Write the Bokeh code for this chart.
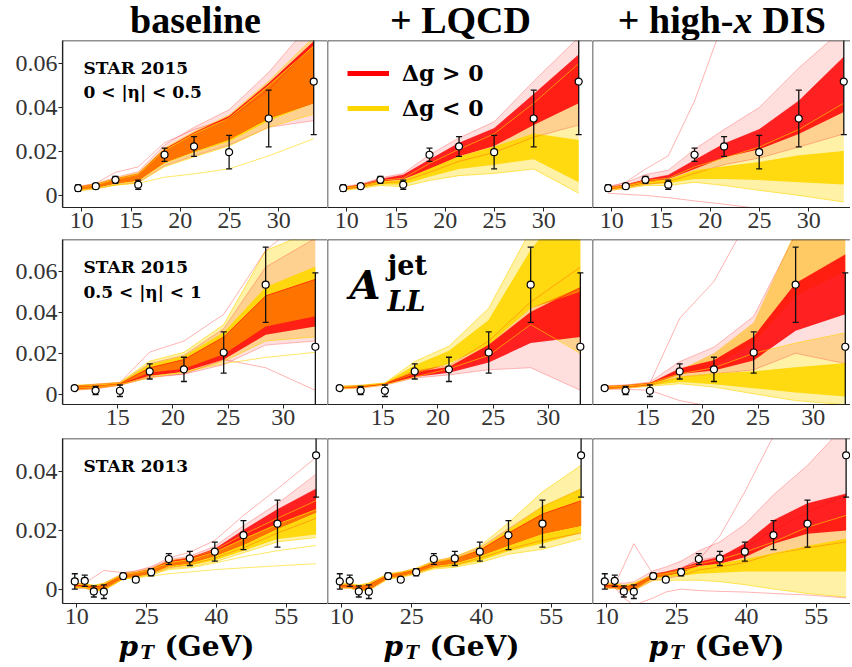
import numpy as np
from bokeh.plotting import figure
from bokeh.layouts import gridplot, column
from bokeh.models import Range1d, FixedTicker, Label, Legend, LegendItem, Span
from bokeh.embed import file_html
from bokeh.resources import INLINE

# ------------------------------------------------------------------ data
COLUMN_TITLES = ["baseline", "+ LQCD"]
X_TICKS_15A = [10, 15, 20, 25, 30]
X_TICKS_15B = [15, 20, 25, 30]
X_TICKS_13 = [10, 25, 40, 55]
Y_TICKS_15 = [0, 0.02, 0.04, 0.06]
Y_LABELS_15 = ["0", "0.02", "0.04", "0.06"]
Y_TICKS_13 = [0, 0.02, 0.04]
Y_LABELS_13 = ["0", "0.02", "0.04"]

# STAR 2015, 0 < |eta| < 0.5
PT_15A = [9.63, 11.42, 13.42, 15.73, 18.40, 21.40, 24.96, 28.98, 33.55]
ALL_15A = [0.0033, 0.0042, 0.0071, 0.0049, 0.0185, 0.0223, 0.0197, 0.0350, 0.0518]
ERR_15A = [0.0015, 0.0011, 0.0015, 0.0021, 0.0030, 0.0045, 0.0076, 0.0129, 0.0241]
# STAR 2015, 0.5 < |eta| < 1
PT_15B = [11.1, 13.0, 15.2, 17.9, 21.0, 24.6, 28.4, 32.9]
ALL_15B = [0.0031, 0.0019, 0.0018, 0.0112, 0.0122, 0.0204, 0.0534, 0.0232]
ERR_15B = [0.0010, 0.0020, 0.0028, 0.0037, 0.0059, 0.0100, 0.0183, 0.0360]
# STAR 2013
PT_13 = [9.56, 11.70, 13.65, 15.80, 19.96, 22.67, 25.97, 29.76, 34.27, 39.64, 45.80, 53.10, 61.40]
ALL_13 = [0.0026, 0.0028, -0.0008, -0.0009, 0.0044, 0.0032, 0.0057, 0.0102, 0.0104, 0.0127, 0.0183, 0.0222, 0.0454]
ERR_13 = [0.0026, 0.0019, 0.0019, 0.0023, 0.0010, 0.0008, 0.0012, 0.0018, 0.0024, 0.0032, 0.0049, 0.0080, 0.0142]

# replica envelopes (outer spread and dense core), Delta g > 0 (red) and < 0 (yellow)
BASE_15A_RED_LO = [0.0022, 0.0030, 0.0048, 0.0058, 0.0135, 0.0180, 0.0230, 0.0310, 0.0340]
BASE_15A_RED_HI = [0.0042, 0.0054, 0.0082, 0.0108, 0.0230, 0.0310, 0.0390, 0.0560, 0.0800]
BASE_15A_RED_CLO = [0.0026, 0.0035, 0.0055, 0.0068, 0.0150, 0.0200, 0.0255, 0.0350, 0.0420]
BASE_15A_RED_CHI = [0.0037, 0.0049, 0.0075, 0.0098, 0.0210, 0.0285, 0.0360, 0.0510, 0.0700]
BASE_15A_YEL_LO = [0.0020, 0.0030, 0.0046, 0.0058, 0.0130, 0.0175, 0.0225, 0.0310, 0.0370]
BASE_15A_YEL_HI = [0.0040, 0.0052, 0.0078, 0.0102, 0.0215, 0.0290, 0.0365, 0.0520, 0.0720]
BASE_15A_YEL_CLO = [0.0024, 0.0034, 0.0052, 0.0065, 0.0145, 0.0195, 0.0245, 0.0340, 0.0420]
BASE_15A_YEL_CHI = [0.0036, 0.0048, 0.0073, 0.0096, 0.0205, 0.0280, 0.0352, 0.0500, 0.0680]
STRAY_BASE_15A_RED = [0.0036, 0.0055, 0.0105, 0.0130, 0.0240, 0.0300, 0.0350, 0.0480, 0.0690]
STRAY_BASE_15A_YEL = [0.0024, 0.0033, 0.0048, 0.0055, 0.0083, 0.0098, 0.0121, 0.0180, 0.0258]

LQCD_15A_RED_LO = [0.0025, 0.0036, 0.0055, 0.0065, 0.0105, 0.0155, 0.0195, 0.0265, 0.0320]
LQCD_15A_RED_HI = [0.0040, 0.0052, 0.0080, 0.0100, 0.0185, 0.0262, 0.0335, 0.0520, 0.0720]
LQCD_15A_RED_CLO = [0.0028, 0.0039, 0.0062, 0.0073, 0.0120, 0.0178, 0.0225, 0.0320, 0.0420]
LQCD_15A_RED_CHI = [0.0037, 0.0048, 0.0074, 0.0093, 0.0162, 0.0238, 0.0305, 0.0460, 0.0640]
LQCD_15A_YEL_LO = [0.0022, 0.0032, 0.0045, 0.0040, 0.0068, 0.0090, 0.0100, 0.0120, 0.0010]
LQCD_15A_YEL_HI = [0.0037, 0.0047, 0.0068, 0.0078, 0.0145, 0.0210, 0.0280, 0.0420, 0.0600]
LQCD_15A_YEL_CLO = [0.0025, 0.0035, 0.0050, 0.0050, 0.0085, 0.0120, 0.0140, 0.0165, 0.0060]
LQCD_15A_YEL_CHI = [0.0034, 0.0043, 0.0062, 0.0068, 0.0120, 0.0175, 0.0220, 0.0280, 0.0250]

DIS_15A_RED_LO = [0.0022, 0.0032, 0.0050, 0.0062, 0.0100, 0.0140, 0.0170, 0.0220, 0.0280]
DIS_15A_RED_HI = [0.0042, 0.0058, 0.0095, 0.0115, 0.0210, 0.0300, 0.0400, 0.0580, 0.0760]
DIS_15A_RED_CLO = [0.0027, 0.0038, 0.0058, 0.0075, 0.0120, 0.0172, 0.0210, 0.0280, 0.0380]
DIS_15A_RED_CHI = [0.0036, 0.0048, 0.0072, 0.0092, 0.0160, 0.0235, 0.0300, 0.0430, 0.0630]
DIS_15A_YEL_LO = [0.0022, 0.0032, 0.0045, 0.0045, 0.0060, 0.0045, 0.0023, 0.0000, -0.0030]
DIS_15A_YEL_HI = [0.0037, 0.0047, 0.0068, 0.0078, 0.0130, 0.0170, 0.0220, 0.0300, 0.0420]
DIS_15A_YEL_CLO = [0.0025, 0.0035, 0.0050, 0.0055, 0.0075, 0.0075, 0.0070, 0.0060, 0.0050]
DIS_15A_YEL_CHI = [0.0034, 0.0043, 0.0062, 0.0070, 0.0112, 0.0130, 0.0150, 0.0180, 0.0200]
STRAY_DIS_15A_RED1 = [0.0035, 0.0060, 0.0120, 0.0180, 0.0430, 0.0800, 0.1000, 0.1200, 0.1400]
STRAY_DIS_15A_RED2 = [0.0010, 0.0005, 0.0000, -0.0010, -0.0025, -0.0040, -0.0060, -0.0080, -0.0100]

BASE_15B_RED_LO = [0.0020, 0.0027, 0.0044, 0.0082, 0.0098, 0.0145, 0.0240, 0.0260]
BASE_15B_RED_HI = [0.0042, 0.0047, 0.0056, 0.0150, 0.0190, 0.0320, 0.0620, 0.0760]
BASE_15B_RED_CLO = [0.0024, 0.0031, 0.0047, 0.0090, 0.0110, 0.0170, 0.0290, 0.0330]
BASE_15B_RED_CHI = [0.0038, 0.0043, 0.0053, 0.0130, 0.0170, 0.0280, 0.0480, 0.0560]
BASE_15B_YEL_LO = [0.0022, 0.0029, 0.0046, 0.0090, 0.0105, 0.0160, 0.0260, 0.0280]
BASE_15B_YEL_HI = [0.0045, 0.0050, 0.0059, 0.0162, 0.0205, 0.0340, 0.0700, 0.0800]
BASE_15B_YEL_CLO = [0.0027, 0.0034, 0.0049, 0.0105, 0.0125, 0.0195, 0.0330, 0.0380]
BASE_15B_YEL_CHI = [0.0040, 0.0045, 0.0055, 0.0145, 0.0185, 0.0300, 0.0520, 0.0620]
STRAY_BASE_15B_RED1 = [0.0040, 0.0050, 0.0058, 0.0206, 0.0260, 0.0390, 0.0700, 0.0900]
STRAY_BASE_15B_RED2 = [0.0025, 0.0030, 0.0046, 0.0085, 0.0100, 0.0170, 0.0130, 0.0020]
STRAY_BASE_15B_YEL = [0.0030, 0.0035, 0.0048, 0.0080, 0.0110, 0.0150, 0.0180, 0.0205]

LQCD_15B_RED_LO = [0.0026, 0.0030, 0.0045, 0.0080, 0.0095, 0.0120, 0.0130, 0.0020]
LQCD_15B_RED_HI = [0.0040, 0.0044, 0.0054, 0.0115, 0.0140, 0.0260, 0.0450, 0.0620]
LQCD_15B_RED_CLO = [0.0029, 0.0033, 0.0048, 0.0085, 0.0105, 0.0155, 0.0250, 0.0280]
LQCD_15B_RED_CHI = [0.0037, 0.0041, 0.0052, 0.0108, 0.0132, 0.0240, 0.0400, 0.0520]
LQCD_15B_YEL_LO = [0.0028, 0.0032, 0.0046, 0.0084, 0.0125, 0.0190, 0.0340, 0.0200]
LQCD_15B_YEL_HI = [0.0040, 0.0045, 0.0056, 0.0160, 0.0235, 0.0420, 0.0800, 0.1200]
LQCD_15B_YEL_CLO = [0.0031, 0.0036, 0.0049, 0.0100, 0.0150, 0.0240, 0.0420, 0.0500]
LQCD_15B_YEL_CHI = [0.0037, 0.0042, 0.0054, 0.0140, 0.0210, 0.0360, 0.0700, 0.1000]

DIS_15B_RED_LO = [0.0025, 0.0029, 0.0043, 0.0085, 0.0100, 0.0120, 0.0200, 0.0150]
DIS_15B_RED_HI = [0.0042, 0.0046, 0.0060, 0.0160, 0.0230, 0.0380, 0.0780, 0.0850]
DIS_15B_RED_CLO = [0.0028, 0.0032, 0.0046, 0.0100, 0.0117, 0.0165, 0.0310, 0.0390]
DIS_15B_RED_CHI = [0.0037, 0.0041, 0.0054, 0.0125, 0.0165, 0.0280, 0.0540, 0.0680]
DIS_15B_YEL_LO = [0.0026, 0.0030, 0.0040, 0.0052, 0.0036, 0.0003, -0.0030, -0.0050]
DIS_15B_YEL_HI = [0.0040, 0.0044, 0.0056, 0.0100, 0.0130, 0.0200, 0.0250, 0.0300]
DIS_15B_YEL_CLO = [0.0029, 0.0033, 0.0044, 0.0060, 0.0050, 0.0030, 0.0010, -0.0010]
DIS_15B_YEL_CHI = [0.0037, 0.0041, 0.0052, 0.0084, 0.0100, 0.0110, 0.0130, 0.0150]
DIS_15B_YEL_UP_LO = [0.0032, 0.0036, 0.0050, 0.0095, 0.0140, 0.0250, 0.0480, 0.0600]
DIS_15B_YEL_UP_HI = [0.0038, 0.0042, 0.0054, 0.0120, 0.0200, 0.0350, 0.0800, 0.1000]
STRAY_DIS_15B_RED1 = [0.0040, 0.0045, 0.0055, 0.0370, 0.0550, 0.0900, 0.1200, 0.1400]
STRAY_DIS_15B_RED2 = [0.0028, 0.0025, 0.0020, -0.0030, -0.0060, -0.0080, -0.0100, -0.0120]

BASE_13_RED_LO = [0.0002, 0.0002, -0.0007, -0.0005, 0.0034, 0.0040, 0.0050, 0.0072, 0.0082, 0.0105, 0.0140, 0.0190, 0.0240]
BASE_13_RED_HI = [0.0016, 0.0017, 0.0011, 0.0020, 0.0054, 0.0060, 0.0073, 0.0100, 0.0112, 0.0145, 0.0215, 0.0290, 0.0390]
BASE_13_RED_CLO = [0.0004, 0.0004, -0.0005, -0.0003, 0.0037, 0.0043, 0.0054, 0.0078, 0.0088, 0.0112, 0.0150, 0.0205, 0.0260]
BASE_13_RED_CHI = [0.0012, 0.0013, 0.0007, 0.0014, 0.0050, 0.0056, 0.0068, 0.0095, 0.0106, 0.0136, 0.0200, 0.0270, 0.0340]
BASE_13_YEL_LO = [0.0004, 0.0004, -0.0005, -0.0004, 0.0034, 0.0040, 0.0049, 0.0069, 0.0075, 0.0092, 0.0123, 0.0160, 0.0175]
BASE_13_YEL_HI = [0.0018, 0.0019, 0.0013, 0.0020, 0.0052, 0.0058, 0.0070, 0.0096, 0.0106, 0.0132, 0.0185, 0.0240, 0.0300]
BASE_13_YEL_CLO = [0.0006, 0.0006, -0.0003, -0.0002, 0.0036, 0.0042, 0.0052, 0.0073, 0.0080, 0.0098, 0.0130, 0.0170, 0.0185]
BASE_13_YEL_CHI = [0.0016, 0.0017, 0.0011, 0.0017, 0.0049, 0.0055, 0.0066, 0.0090, 0.0100, 0.0125, 0.0170, 0.0220, 0.0270]
STRAY_BASE_13_RED = [0.0018, 0.0020, 0.0040, 0.0063, 0.0056, 0.0062, 0.0076, 0.0105, 0.0125, 0.0165, 0.0250, 0.0340, 0.0447]
STRAY_BASE_13_YEL1 = [0.0005, 0.0006, -0.0004, -0.0002, 0.0034, 0.0038, 0.0044, 0.0052, 0.0058, 0.0066, 0.0072, 0.0079, 0.0086]
STRAY_BASE_13_YEL2 = [0.0005, 0.0006, -0.0004, -0.0002, 0.0035, 0.0040, 0.0048, 0.0066, 0.0072, 0.0088, 0.0110, 0.0130, 0.0148]

LQCD_13_RED_LO = [0.0003, 0.0003, -0.0006, -0.0004, 0.0036, 0.0042, 0.0054, 0.0074, 0.0082, 0.0105, 0.0135, 0.0165, 0.0190]
LQCD_13_RED_HI = [0.0016, 0.0017, 0.0012, 0.0020, 0.0052, 0.0058, 0.0070, 0.0095, 0.0110, 0.0140, 0.0205, 0.0280, 0.0340]
LQCD_13_RED_CLO = [0.0005, 0.0005, -0.0004, -0.0002, 0.0039, 0.0045, 0.0057, 0.0078, 0.0088, 0.0112, 0.0148, 0.0188, 0.0215]
LQCD_13_RED_CHI = [0.0013, 0.0014, 0.0008, 0.0015, 0.0049, 0.0055, 0.0066, 0.0090, 0.0104, 0.0132, 0.0190, 0.0255, 0.0300]
LQCD_13_YEL_LO = [0.0003, 0.0003, -0.0006, -0.0005, 0.0034, 0.0039, 0.0051, 0.0068, 0.0074, 0.0090, 0.0118, 0.0135, 0.0170]
LQCD_13_YEL_HI = [0.0019, 0.0020, 0.0014, 0.0021, 0.0052, 0.0058, 0.0071, 0.0095, 0.0110, 0.0145, 0.0225, 0.0330, 0.0420]
LQCD_13_YEL_CLO = [0.0005, 0.0005, -0.0004, -0.0003, 0.0036, 0.0041, 0.0053, 0.0071, 0.0078, 0.0096, 0.0128, 0.0155, 0.0190]
LQCD_13_YEL_CHI = [0.0016, 0.0017, 0.0011, 0.0018, 0.0050, 0.0056, 0.0068, 0.0091, 0.0104, 0.0135, 0.0200, 0.0280, 0.0340]

DIS_13_RED_LO = [0.0002, 0.0002, -0.0007, -0.0005, 0.0030, 0.0035, 0.0045, 0.0065, 0.0075, 0.0090, 0.0120, 0.0140, 0.0160]
DIS_13_RED_HI = [0.0020, 0.0022, 0.0020, 0.0025, 0.0062, 0.0075, 0.0095, 0.0130, 0.0160, 0.0220, 0.0320, 0.0420, 0.0560]
DIS_13_RED_CLO = [0.0005, 0.0005, -0.0004, -0.0002, 0.0038, 0.0045, 0.0056, 0.0078, 0.0086, 0.0108, 0.0154, 0.0188, 0.0199]
DIS_13_RED_CHI = [0.0013, 0.0014, 0.0008, 0.0015, 0.0050, 0.0058, 0.0070, 0.0092, 0.0108, 0.0154, 0.0233, 0.0290, 0.0323]
DIS_13_YEL_LO = [0.0003, 0.0003, -0.0006, -0.0005, 0.0030, 0.0030, 0.0030, 0.0030, 0.0025, 0.0015, 0.0000, -0.0015, -0.0027]
DIS_13_YEL_HI = [0.0018, 0.0019, 0.0013, 0.0020, 0.0050, 0.0056, 0.0068, 0.0085, 0.0100, 0.0125, 0.0160, 0.0210, 0.0250]
DIS_13_YEL_CLO = [0.0005, 0.0005, -0.0004, -0.0003, 0.0035, 0.0040, 0.0045, 0.0052, 0.0055, 0.0060, 0.0060, 0.0060, 0.0060]
DIS_13_YEL_CHI = [0.0016, 0.0017, 0.0011, 0.0017, 0.0047, 0.0053, 0.0062, 0.0075, 0.0085, 0.0100, 0.0120, 0.0145, 0.0170]
STRAY_DIS_13_RED1 = [0.0012, 0.0015, 0.0080, 0.0154, 0.0050, 0.0058, 0.0072, 0.0098, 0.0110, 0.0140, 0.0200, 0.0260, 0.0320]
STRAY_DIS_13_RED2 = [0.0010, 0.0012, 0.0005, 0.0010, 0.0045, 0.0055, 0.0070, 0.0100, 0.0180, 0.0330, 0.0520, 0.0700, 0.0900]
STRAY_DIS_13_RED3 = [0.0008, 0.0005, -0.0030, -0.0055, -0.0030, -0.0010, 0.0000, -0.0005, -0.0008, -0.0010, -0.0015, -0.0020, -0.0030]

# ------------------------------------------------------------------ style / layout
RED = "#ff0000"
GOLD = "#ffd700"
ORANGE = "#ff8400"
INK = "#222222"
SERIF = "DejaVu Serif"
TICKFONT = "Liberation Serif"
BASELINE_SHIFT = 0.42   # measured drop of alphabetic-baseline labels, in em

FRAME_W = [265, 265, 258]
BORDER_L = [62, 0, 0]
FRAME_LEFT = [62, 327, 592]
TOTAL_W = 850
TOP_H = 40
BOTTOM_H = 37


def bands(prefix):
    g = globals()
    return [np.asarray(g[prefix + s], dtype=float) for s in
            ("_RED_LO", "_RED_HI", "_RED_CLO", "_RED_CHI",
             "_YEL_LO", "_YEL_HI", "_YEL_CLO", "_YEL_CHI")]


ROWS = [
    dict(pt=PT_15A, a=ALL_15A, e=ERR_15A, xt=X_TICKS_15A, yt=Y_TICKS_15, yl=Y_LABELS_15,
         xr=[(8.04, 34.95), (8.04, 34.95), (8.04, 34.23)], yr=(-0.0055, 0.0705),
         fh=167, bb=32,
         prefixes=["BASE_15A", "LQCD_15A", "DIS_15A"],
         strays=[[(RED, STRAY_BASE_15A_RED), (GOLD, STRAY_BASE_15A_YEL)], [],
                 [(RED, STRAY_DIS_15A_RED1), (RED, STRAY_DIS_15A_RED2)]],
         extra=[[], [], []]),
    dict(pt=PT_15B, a=ALL_15B, e=ERR_15B, xt=X_TICKS_15B, yt=Y_TICKS_15, yl=Y_LABELS_15,
         xr=[(10.0, 34.0), (10.0, 34.0), (10.0, 33.37)], yr=(-0.0049, 0.0754),
         fh=165, bb=34,
         prefixes=["BASE_15B", "LQCD_15B", "DIS_15B"],
         strays=[[(RED, STRAY_BASE_15B_RED1), (RED, STRAY_BASE_15B_RED2), (GOLD, STRAY_BASE_15B_YEL)], [],
                 [(RED, STRAY_DIS_15B_RED1), (RED, STRAY_DIS_15B_RED2)]],
         extra=[[], [], [(DIS_15B_YEL_UP_LO, DIS_15B_YEL_UP_HI)]]),
    dict(pt=PT_13, a=ALL_13, e=ERR_13, xt=X_TICKS_13, yt=Y_TICKS_13, yl=Y_LABELS_13,
         xr=[(6.92, 63.85), (6.92, 63.85), (6.92, 62.34)], yr=(-0.0049, 0.0511),
         fh=165, bb=27,
         prefixes=["BASE_13", "LQCD_13", "DIS_13"],
         strays=[[(RED, STRAY_BASE_13_RED), (GOLD, STRAY_BASE_13_YEL1), (GOLD, STRAY_BASE_13_YEL2)], [],
                 [(RED, STRAY_DIS_13_RED1), (RED, STRAY_DIS_13_RED2), (RED, STRAY_DIS_13_RED3)]],
         extra=[[], [], []]),
]


def at(p, dx, dy):
    """data coordinates of a point dx px right of / dy px below the frame's top-left corner"""
    xr, yr = p.x_range, p.y_range
    x = xr.start + dx * (xr.end - xr.start) / p.frame_width
    y = yr.end - dy * (yr.end - yr.start) / p.frame_height
    return x, y


def label(p, dx, dy, text, size, style="bold", font=SERIF, align="left", color="black"):
    x, y = at(p, dx, dy - BASELINE_SHIFT * size)
    p.add_layout(Label(x=x, y=y, text=text, text_font=font, text_font_size=f"{size}px",
                       text_font_style=style, text_align=align, text_baseline="alphabetic",
                       text_color=color))


def strip(height):
    s = figure(frame_width=TOTAL_W, frame_height=height, x_range=Range1d(0, TOTAL_W),
               y_range=Range1d(0, height), x_axis_location=None, y_axis_location=None,
               output_backend="svg", toolbar_location=None, min_border=0)
    s.outline_line_color = None
    s.xgrid.visible = False
    s.ygrid.visible = False
    return s


figs = []
for r, row in enumerate(ROWS):
    frow = []
    x = np.asarray(row["pt"], dtype=float)
    a = np.asarray(row["a"], dtype=float)
    e = np.asarray(row["e"], dtype=float)
    for c in range(3):
        p = figure(frame_width=FRAME_W[c], frame_height=row["fh"],
                   x_range=Range1d(*row["xr"][c]), y_range=Range1d(*row["yr"]),
                   output_backend="svg", toolbar_location=None,
                   y_axis_location="left" if c == 0 else None,
                   min_border=0, min_border_left=BORDER_L[c],
                   min_border_right=0, min_border_top=0, min_border_bottom=row["bb"])
        p.xgrid.visible = False
        p.ygrid.visible = False
        p.background_fill_color = "white"
        p.border_fill_color = "white"
        p.outline_line_color = None
        # frame edges: left and top (the right edge is the next panel's left edge)
        p.add_layout(Span(location=row["xr"][c][0], dimension="height", line_color=INK, line_width=1.5))
        p.add_layout(Span(location=row["yr"][1], dimension="width", line_color=INK, line_width=1.5))

        ax = p.xaxis[0]
        ax.ticker = FixedTicker(ticks=row["xt"], minor_ticks=[])
        axes = [ax]
        if c == 0:
            ay = p.yaxis[0]
            ay.ticker = FixedTicker(ticks=row["yt"], minor_ticks=[])
            ay.major_label_overrides = {t: s for t, s in zip(row["yt"], row["yl"])}
            axes.append(ay)
        for axis in axes:
            axis.major_label_text_font = TICKFONT
            axis.major_label_text_font_size = "24px"
            axis.major_label_text_color = "#333333"
            axis.major_tick_out = 4
            axis.major_tick_in = 0
            axis.minor_tick_out = 0
            axis.minor_tick_in = 0
            axis.major_label_standoff = 1
            axis.axis_line_color = INK
            axis.axis_line_width = 1.2
            axis.major_tick_line_color = INK

        # replica envelopes
        rl, rh, rcl, rch, yl, yh, ycl, ych = bands(row["prefixes"][c])
        p.varea(x=x, y1=yl, y2=yh, fill_color=GOLD, fill_alpha=0.35)
        for lo, hi in row["extra"][c]:
            p.varea(x=x, y1=np.asarray(lo), y2=np.asarray(hi), fill_color=GOLD, fill_alpha=0.55)
        p.varea(x=x, y1=rl, y2=rh, fill_color=RED, fill_alpha=0.13)
        p.varea(x=x, y1=ycl, y2=ych, fill_color=GOLD, fill_alpha=0.9)
        p.varea(x=x, y1=rcl, y2=rch, fill_color=RED, fill_alpha=0.85)
        olo = np.maximum(rcl, ycl)
        ohi = np.maximum(np.minimum(rch, ych), olo)
        p.varea(x=x, y1=olo, y2=ohi, fill_color=ORANGE, fill_alpha=0.85)
        for edge, col, al in ((rh, RED, 0.25), (rl, RED, 0.25), (yh, GOLD, 0.6), (yl, GOLD, 0.6),
                              (rch, RED, 0.5), (ych, GOLD, 0.8)):
            p.line(x, edge, line_color=col, line_alpha=al, line_width=1)
        for col, arr in row["strays"][c]:
            p.line(x, np.asarray(arr), line_color=col, line_alpha=0.3 if col == RED else 0.6, line_width=1)

        # data with error bars
        p.segment(x0=x, y0=a - e, x1=x, y1=a + e, line_color="#111111", line_width=1.3)
        p.scatter(np.concatenate([x, x]), np.concatenate([a - e, a + e]), marker="dash",
                  size=6, line_color="#111111", line_width=1.3)
        p.scatter(x, a, marker="circle", size=7, fill_color="white", line_color="black", line_width=1.2)
        frow.append(p)
    figs.append(frow)

# column titles in a strip above the panels
top = strip(TOP_H)
for c in range(2):
    label(top, FRAME_LEFT[c] + 133, 35, COLUMN_TITLES[c], 38, font=TICKFONT, align="center")
label(top, FRAME_LEFT[2] + 141, 35, "+ high-", 38, font=TICKFONT, align="right")
label(top, FRAME_LEFT[2] + 141, 35, "x", 38, style="bold italic", font=TICKFONT)
label(top, FRAME_LEFT[2] + 170, 35, "DIS", 38, font=TICKFONT)

# x-axis titles in a strip below the panels
bottom = strip(BOTTOM_H)
for c in range(3):
    label(bottom, FRAME_LEFT[c] + 56, 28, "p", 28, style="bold italic")
    label(bottom, FRAME_LEFT[c] + 78, 30, "T", 18, style="bold italic")
    label(bottom, FRAME_LEFT[c] + 102, 28, "(GeV)", 28)

# data-set annotations
label(figs[0][0], 21, 35, "STAR 2015", 17)
label(figs[0][0], 21, 59, "0 < |η| < 0.5", 17)
label(figs[1][0], 21, 35, "STAR 2015", 17)
label(figs[1][0], 21, 60, "0.5 < |η| < 1", 17)
label(figs[2][0], 21, 35, "STAR 2013", 17)

# A_LL^jet
label(figs[1][1], 22, 62, "A", 40, style="bold italic")
label(figs[1][1], 60, 37, "jet", 27)
label(figs[1][1], 60, 73, "LL", 27, style="bold italic")

# legend
pl = figs[0][1]
r_pos = pl.line(x=[np.nan], y=[np.nan], line_color=RED, line_width=5)
r_neg = pl.line(x=[np.nan], y=[np.nan], line_color=GOLD, line_width=5)
leg = Legend(items=[LegendItem(label="Δg > 0", renderers=[r_pos]),
                    LegendItem(label="Δg < 0", renderers=[r_neg])],
             location="top_left")
leg.label_text_font = SERIF
leg.label_text_font_style = "bold"
leg.label_text_font_size = "22px"
leg.label_text_color = "black"
leg.glyph_width = 42
leg.glyph_height = 20
leg.label_standoff = 13
leg.spacing = 9
leg.padding = 0
leg.margin = 20
leg.border_line_color = None
leg.background_fill_alpha = 0
pl.add_layout(leg)

grid = gridplot(figs, toolbar_location=None)
page = column(top, grid, bottom)
open("out.html", "w").write(file_html(page, INLINE))
